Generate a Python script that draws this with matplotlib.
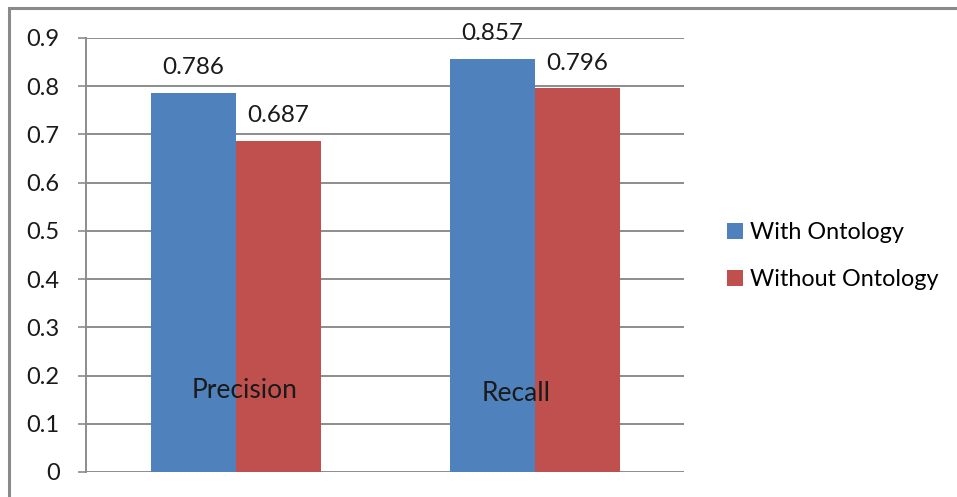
import matplotlib.pyplot as plt
from matplotlib.patches import Rectangle
import numpy as np

# data
categories = ['Precision', 'Recall']
series_names = ['With Ontology', 'Without Ontology']
with_ontology = [0.786, 0.857]
without_ontology = [0.687, 0.796]
y_ticks = [0, 0.1, 0.2, 0.3, 0.4, 0.5, 0.6, 0.7, 0.8, 0.9]

blue = '#4F81BD'
red = '#C0504D'
grid_gray = '#8C8C8C'

plt.rcParams['font.family'] = ['Lato', 'DejaVu Sans']

fig = plt.figure(figsize=(9.57, 4.97), dpi=100)
ax = fig.add_axes([86 / 957, 1 - 472 / 497, (684 - 86) / 957, (472 - 38) / 497])

x = np.arange(len(categories)) + 0.5
w = 85 / 299
b1 = ax.bar(x - w / 2, with_ontology, w, color=blue, label=series_names[0], zorder=3)
b2 = ax.bar(x + w / 2, without_ontology, w, color=red, label=series_names[1], zorder=3)

# value labels above the bars
for bars, vals in [(b1, with_ontology), (b2, without_ontology)]:
    for rect, v in zip(bars, vals):
        ax.annotate(f'{v:.3f}', (rect.get_x() + rect.get_width() / 2, v),
                    xytext=(0, 18), textcoords='offset points',
                    ha='center', va='center', fontsize=17.5, color='#1a1a1a', zorder=4)

# category names sit inside the plot area
ax.text(x[0] + 0.03, 0.168, categories[0], ha='center', va='center', fontsize=19, color='#1a1a1a', zorder=4)
ax.text(x[1] - 0.06, 0.162, categories[1], ha='center', va='center', fontsize=19, color='#1a1a1a', zorder=4)

ax.set_xlim(0, 2)
ax.set_ylim(0, 0.9)
ax.set_yticks(y_ticks)
ax.set_yticklabels(['0' if t == 0 else f'{t:.1f}' for t in y_ticks])
ax.set_xticks([])
ax.yaxis.grid(True, color=grid_gray, linewidth=1.4, zorder=1)
ax.tick_params(axis='y', length=6, width=1.2, color=grid_gray, pad=13, labelsize=17, labelcolor='#1a1a1a')
for s in ['top', 'right', 'bottom']:
    ax.spines[s].set_visible(False)
ax.spines['left'].set_color(grid_gray)
ax.spines['left'].set_linewidth(1.4)

ax.legend(loc='center left', bbox_to_anchor=(718 / 957, 1 - 256 / 497), bbox_transform=fig.transFigure,
          frameon=False, fontsize=16.8, handlelength=0.68, handleheight=0.68, handletextpad=0.3,
          labelspacing=1.1, borderaxespad=0)

# outer chart frame
fig.patches.append(Rectangle((9 / 957, -0.05), 1.1, 1 - 8 / 497 + 0.05, transform=fig.transFigure,
                             fill=False, edgecolor='#8A8A8A', linewidth=2.2))

fig.savefig('out.png', dpi=100)
